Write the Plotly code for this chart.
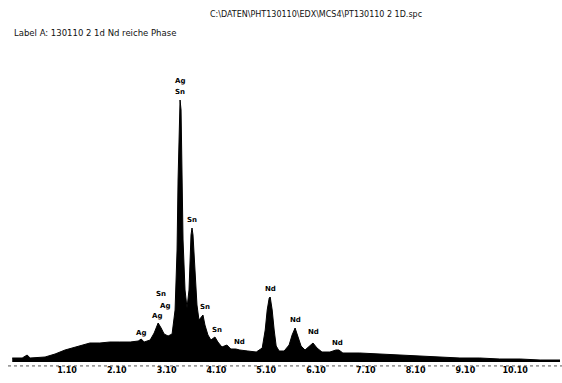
import plotly.graph_objects as go

# Energy (keV) and counts (arbitrary)
energy = [0.0, 0.20, 0.30, 0.36, 0.66, 0.86, 1.06, 1.26, 1.56, 1.76, 1.96, 2.16, 2.37, 2.53, 2.59, 2.65,
          2.77, 2.85, 2.93, 2.99, 3.05, 3.13, 3.21, 3.27, 3.31, 3.33, 3.35, 3.37, 3.39, 3.41,
          3.43, 3.47, 3.51, 3.55, 3.57, 3.59, 3.61, 3.63, 3.67, 3.71, 3.75, 3.79, 3.83, 3.87,
          3.93, 3.99, 4.07, 4.13, 4.21, 4.31, 4.39, 4.49, 4.57, 4.73, 4.90, 5.02, 5.08, 5.12,
          5.16, 5.18, 5.22, 5.26, 5.30, 5.36, 5.46, 5.56, 5.62, 5.68, 5.74, 5.80, 5.88, 5.96,
          6.04, 6.12, 6.22, 6.38, 6.50, 6.56, 6.64, 6.98, 7.39, 7.79, 8.19, 8.59, 8.99, 9.39,
          9.79, 10.20, 10.60, 11.00]
counts = [4, 4, 7, 4, 5, 8, 12, 15, 19, 19, 20, 20, 20, 21, 23, 20,
          22, 29, 39, 34, 28, 26, 28, 52, 112, 182, 232, 262, 252, 192,
          122, 72, 54, 72, 102, 127, 134, 127, 92, 57, 42, 44, 47, 37,
          27, 22, 25, 20, 15, 17, 13, 13, 12, 11, 10, 14, 32, 52,
          64, 65, 52, 32, 16, 11, 11, 17, 27, 34, 26, 16, 12, 16,
          19, 14, 10, 10, 12, 12, 9, 9, 8, 7, 6, 5, 4, 4,
          3, 3, 2, 2]

# Peak labels
label_text = ["Ag", "Sn", "Sn", "Sn", "Ag", "Ag", "Ag", "Sn", "Sn", "Nd", "Nd", "Nd", "Nd", "Nd"]
label_x = [3.37, 3.37, 3.61, 2.99, 3.07, 2.91, 2.59, 3.87, 4.11, 4.57, 5.18, 5.68, 6.04, 6.54]
label_y = [281, 270, 142, 68, 56, 46, 29, 55, 32, 20, 73, 42, 30, 19]

tick_vals = [1.1, 2.1, 3.1, 4.1, 5.1, 6.1, 7.1, 8.1, 9.1, 10.1]
tick_text = ["1.10", "2.10", "3.10", "4.10", "5.10", "6.10", "7.10", "8.10", "9.10", "10.10"]

title_text = "C:\\DATEN\\PHT130110\\EDX\\MCS4\\PT130110 2 1D.spc"
label_a = "Label A: 130110 2 1d Nd reiche Phase"

fig = go.Figure()
fig.add_trace(go.Scatter(x=energy, y=counts, mode="lines", fill="tozeroy",
                         line=dict(color="black", width=1), fillcolor="black",
                         hoverinfo="skip", showlegend=False))

for t, x, y in zip(label_text, label_x, label_y):
    fig.add_annotation(x=x, y=y, text="<b>" + t + "</b>", showarrow=False,
                       font=dict(family="DejaVu Sans", size=7, color="black"))

fig.add_annotation(xref="paper", yref="paper", x=0.556, y=1.0, yshift=46, yanchor="middle",
                   text=title_text, showarrow=False,
                   font=dict(family="DejaVu Sans", size=8, color="#111"))
fig.add_annotation(xref="paper", yref="paper", x=0.007, y=1.0, yshift=27, xanchor="left",
                   yanchor="middle", text=label_a, showarrow=False,
                   font=dict(family="DejaVu Sans", size=8.5, color="#111"))

fig.add_shape(type="line", xref="paper", yref="paper", x0=0, x1=1, y0=-0.013, y1=-0.013,
              line=dict(color="#555", width=1, dash="dot"))

fig.update_layout(
    width=562, height=383,
    margin=dict(l=8, r=0, t=60, b=21, autoexpand=False),
    paper_bgcolor="white", plot_bgcolor="white",
    xaxis=dict(range=[-0.085, 11.04], tickvals=tick_vals, ticktext=tick_text,
               showgrid=False, zeroline=False, showline=False, ticks="",
               automargin=False,
               tickfont=dict(family="DejaVu Sans", size=8, color="black", weight="bold"),
               ticklabelstandoff=2),
    yaxis=dict(range=[0, 302], visible=False, showgrid=False, zeroline=False,
               automargin=False),
)

fig.write_html("out.html", config={"displayModeBar": False},
               post_script="document.body.style.margin='0';document.body.style.overflow='hidden';")
